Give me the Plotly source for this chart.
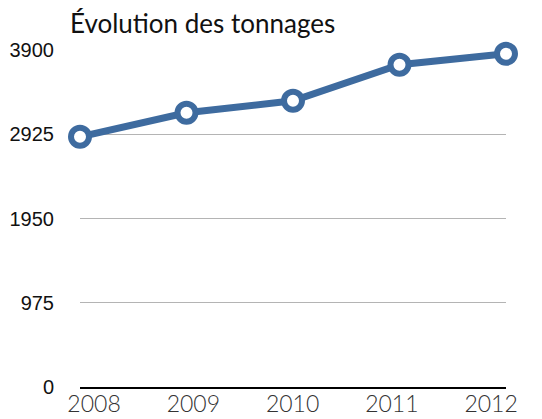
import plotly.graph_objects as go

years = ['2008', '2009', '2010', '2011', '2012']
tonnages = [2895, 3173, 3312, 3729, 3856]
y_ticks = [0, 975, 1950, 2925, 3900]

blue = '#3E6B9F'

# the page body has an 8px margin, so the figure is drawn 8px smaller
W, H = 534, 411

fig = go.Figure()
# invisible trace carrying the year labels (spaced a bit tighter than the points)
fig.add_trace(go.Scatter(
    x=years, y=tonnages, mode='markers',
    marker=dict(opacity=0), hoverinfo='skip', showlegend=False))
fig.add_trace(go.Scatter(
    x=years, y=tonnages, xaxis='x2', mode='lines+markers',
    line=dict(color=blue, width=7),
    marker=dict(size=18, color='white', line=dict(color=blue, width=6)),
    cliponaxis=False, showlegend=False))

fig.update_layout(
    width=W, height=H,
    margin=dict(l=72, r=36, t=42, b=32),
    paper_bgcolor='white', plot_bgcolor='rgba(0,0,0,0)',
    title=dict(text='Évolution des tonnages', x=62 / W, xref='container', xanchor='left',
               y=1 - 7 / H, yanchor='top', yref='container',
               font=dict(family='Lato', size=26, color='#111111')),
    xaxis=dict(
        type='category', range=[0, 4], domain=[0.033, 0.965],
        showgrid=False, showline=False, zeroline=False,
        automargin=False, ticks='', ticklabelstandoff=1,
        tickfont=dict(family='Lato', size=23, color='#333333', weight=300)),
    xaxis2=dict(
        type='category', range=[0, 4], domain=[0, 1], anchor='y',
        showgrid=False, automargin=False,
        showline=True, linecolor='black', linewidth=2,
        ticks='', showticklabels=False),
    yaxis=dict(
        anchor='free', position=0,
        range=[0, 3900], tickvals=y_ticks, ticktext=[str(v) for v in y_ticks],
        showgrid=True, gridcolor='#B4B4B4', gridwidth=1.2, automargin=False,
        zeroline=False, showline=False, ticks='', ticklabelstandoff=26,
        tickfont=dict(family='Liberation Sans', size=20, color='#111111')),
)

fig.write_html('out.html')
